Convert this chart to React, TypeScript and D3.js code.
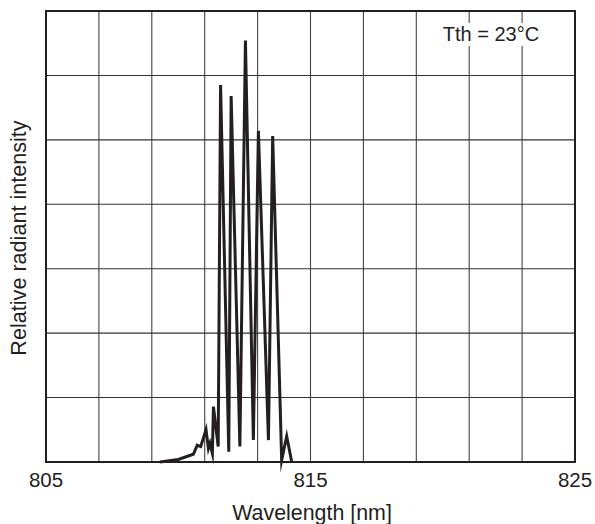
import React from "react";
import * as d3 from "d3";

const wavelengths = [
  809.31, 810.0, 810.57, 810.72, 810.85, 811.05, 811.14, 811.2, 811.29, 811.33,
  811.51, 811.6, 811.91, 812.0, 812.33, 812.54, 812.84, 813.03, 813.41, 813.57,
  813.91, 814.1, 814.29,
];
const intensities = [
  0, 0.04, 0.12, 0.26, 0.24, 0.5, 0.21, 0.29, 0.135, 0.86,
  0.24, 5.85, 0.16, 5.68, 0.24, 6.54, 0.34, 5.14, 0.34, 5.06,
  0.03, 0.4, 0,
];
const xGridValues = [805, 807, 809, 811, 813, 815, 817, 819, 821, 823, 825];
const xTickLabels = [805, 815, 825];
const yGridValues = [0, 1, 2, 3, 4, 5, 6, 7];

const W = 595;
const H = 524;
const left = 46;
const right = 575;
const top = 11;
const bottom = 462;

export default function App() {
  const x = d3.scaleLinear().domain([805, 825]).range([left, right]);
  const y = d3.scaleLinear().domain([0, 7]).range([bottom, top]);
  const data = wavelengths.map((w, i) => [w, intensities[i]] as [number, number]);
  const line = d3
    .line<[number, number]>()
    .x((d) => x(d[0]))
    .y((d) => y(d[1]));
  const font = "'Liberation Sans', Arial, Helvetica, sans-serif";
  return (
    <svg
      width={W}
      height={H}
      style={{ position: "absolute", left: 0, top: 0, background: "#fff" }}
      fontFamily={font}
    >
      <rect x={0} y={0} width={W} height={H} fill="#fff" />
      {xGridValues.slice(1, -1).map((v) => (
        <line key={"vx" + v} x1={x(v)} x2={x(v)} y1={top} y2={bottom} stroke="#444" strokeWidth={1.1} />
      ))}
      {yGridValues.slice(1, -1).map((v) => (
        <line key={"hy" + v} x1={left} x2={right} y1={y(v)} y2={y(v)} stroke="#333" strokeWidth={1.1} />
      ))}
      <rect x={left} y={top} width={right - left} height={bottom - top} fill="none" stroke="#231f20" strokeWidth={2} />
      <rect x={436} y={23} width={112} height={23} fill="#fff" />
      <text x={491} y={41} textAnchor="middle" fontSize={20} fill="#231f20">
        Tth = 23°C
      </text>
      <path d={line(data) ?? ""} fill="none" stroke="#231f20" strokeWidth={3} strokeLinejoin="miter" strokeMiterlimit={10} />
      {xTickLabels.map((v) => (
        <text key={"tl" + v} x={x(v)} y={486.5} textAnchor="middle" fontSize={20.5} fill="#231f20">
          {v}
        </text>
      ))}
      <text x={312} y={520} textAnchor="middle" fontSize={21.4} fill="#231f20">
        Wavelength [nm]
      </text>
      <text
        transform={`translate(26, 238) rotate(-90)`}
        textAnchor="middle"
        fontSize={21.6}
        fill="#231f20"
      >
        Relative radiant intensity
      </text>
    </svg>
  );
}
